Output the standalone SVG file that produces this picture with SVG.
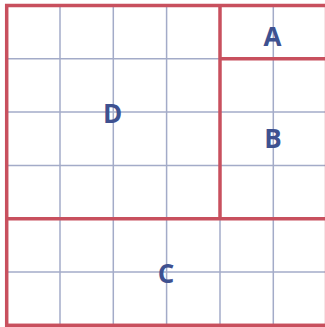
<svg xmlns="http://www.w3.org/2000/svg" width="325" height="327" viewBox="0 0 325 327">
<style>
.grid{stroke:#a3abc8;stroke-width:1.5;fill:none}
.wall{stroke:#c8505e;stroke-width:3.5;fill:none}
.lbl{font-family:"Open Sans","Noto Sans",sans-serif;font-weight:bold;font-size:26px;fill:#3e5190;text-anchor:middle}
</style>
<rect width="325" height="327" fill="#fff"/>
<g id="grid" class="grid">
<line x1="60" y1="5.5" x2="60" y2="325.3"/>
<line x1="113.3" y1="5.5" x2="113.3" y2="325.3"/>
<line x1="166.6" y1="5.5" x2="166.6" y2="325.3"/>
<line x1="273.3" y1="5.5" x2="273.3" y2="325.3"/>
<line x1="6.7" y1="58.8" x2="326.6" y2="58.8"/>
<line x1="6.7" y1="112.1" x2="326.6" y2="112.1"/>
<line x1="6.7" y1="165.4" x2="326.6" y2="165.4"/>
<line x1="6.7" y1="272" x2="326.6" y2="272"/>
<line x1="220" y1="218.7" x2="220" y2="325.3"/>
</g>
<g id="walls" class="wall">
<rect x="6.7" y="5.5" width="319.9" height="319.8"/>
<line x1="220" y1="5.5" x2="220" y2="218.7"/>
<line x1="220" y1="58.8" x2="326.6" y2="58.8"/>
<line x1="6.7" y1="218.7" x2="326.6" y2="218.7"/>
</g>
<g id="A"><text class="lbl" x="272.5" y="46">A</text></g>
<g id="B"><text class="lbl" x="273" y="148">B</text></g>
<g id="C"><text class="lbl" x="166" y="283">C</text></g>
<g id="D"><text class="lbl" x="112.5" y="123">D</text></g>
</svg>
